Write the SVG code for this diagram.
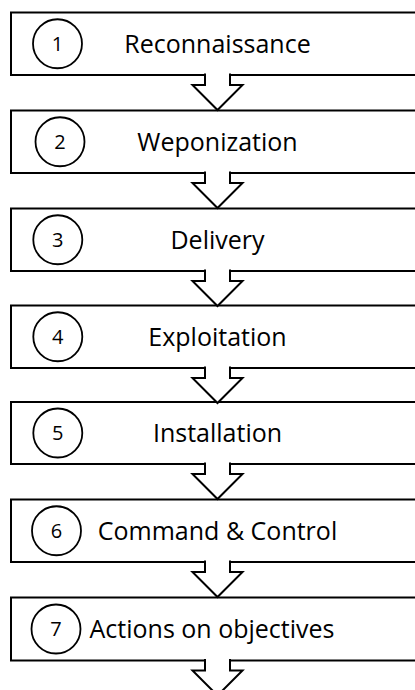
<svg xmlns="http://www.w3.org/2000/svg" width="415" height="690" viewBox="0 0 415 690">
  <style>
    .box { fill: #fff; stroke: #000; stroke-width: 2; }
    .num { fill: #fff; stroke: #000; stroke-width: 1.8; }
    .ntext { font-family: "Open Sans", "Noto Sans", sans-serif; font-size: 20px; fill: #000; text-anchor: middle; }
    .label { font-family: "Open Sans", "Noto Sans", sans-serif; font-size: 25px; fill: #000; text-anchor: middle; }
    .arrow { fill: #fff; stroke: #000; stroke-width: 2; stroke-linejoin: miter; }
  </style>
  <defs>
    <!-- block arrow, open at the top so it merges with the box above -->
    <path id="down" class="arrow" d="M -12.5,-1.5 V 10 H -25 L 0,35 L 25,10 H 12.5 V -1.5"/>
  </defs>

  <g id="step1">
    <rect class="box" x="11" y="12.5" width="413" height="62.5"/>
    <circle class="num" cx="57.5" cy="43.75" r="24.5"/>
    <text class="ntext" x="57.5" y="50.75">1</text>
    <text class="label" x="217.5" y="52.5">Reconnaissance</text>
  </g>
  <g id="step2">
    <rect class="box" x="11" y="110.5" width="413" height="62.5"/>
    <circle class="num" cx="60" cy="141.75" r="24.5"/>
    <text class="ntext" x="60" y="148.75">2</text>
    <text class="label" x="217.5" y="150.5">Weponization</text>
  </g>
  <g id="step3">
    <rect class="box" x="11" y="208.5" width="413" height="62.5"/>
    <circle class="num" cx="57.8" cy="239.75" r="24.5"/>
    <text class="ntext" x="57.8" y="246.75">3</text>
    <text class="label" x="217.5" y="248.5">Delivery</text>
  </g>
  <g id="step4">
    <rect class="box" x="11" y="305.5" width="413" height="62.5"/>
    <circle class="num" cx="57.8" cy="336.75" r="24.5"/>
    <text class="ntext" x="57.8" y="343.75">4</text>
    <text class="label" x="217.5" y="345.5">Exploitation</text>
  </g>
  <g id="step5">
    <rect class="box" x="11" y="402" width="413" height="62"/>
    <circle class="num" cx="57.8" cy="433" r="24.5"/>
    <text class="ntext" x="57.8" y="440">5</text>
    <text class="label" x="217.5" y="442">Installation</text>
  </g>
  <g id="step6">
    <rect class="box" x="11" y="499.5" width="413" height="62.5"/>
    <circle class="num" cx="56.5" cy="530.75" r="24.5"/>
    <text class="ntext" x="56.5" y="537.75">6</text>
    <text class="label" x="217.5" y="539.5">Command &amp; Control</text>
  </g>
  <g id="step7">
    <rect class="box" x="11" y="597.5" width="413" height="63"/>
    <circle class="num" cx="56" cy="629" r="24.5"/>
    <text class="ntext" x="56" y="636">7</text>
    <text class="label" x="212" y="638">Actions on objectives</text>
  </g>

  <g id="connectors">
    <use href="#down" x="217.5" y="75"/>
    <use href="#down" x="217.5" y="173"/>
    <use href="#down" x="217.5" y="271"/>
    <use href="#down" x="217.5" y="368"/>
    <use href="#down" x="217.5" y="464"/>
    <use href="#down" x="217.5" y="562"/>
    <use href="#down" x="217.5" y="660.5"/>
  </g>
</svg>
